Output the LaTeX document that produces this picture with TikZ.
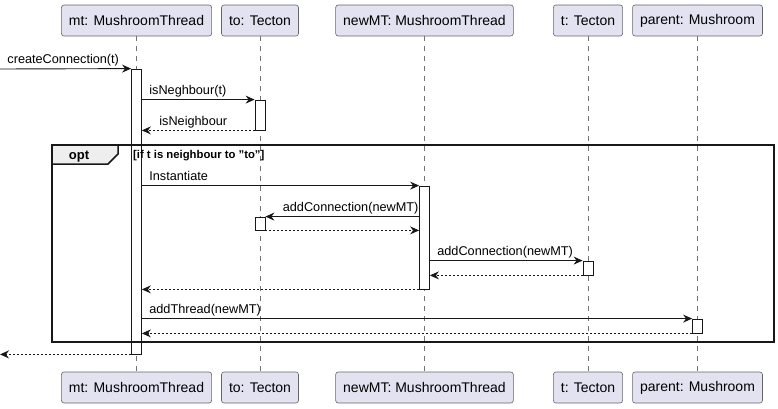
\documentclass[tikz,border=0pt]{standalone}
\usepackage{fontspec}
\setmainfont{Liberation Sans}
\usetikzlibrary{arrows.meta}
\definecolor{partfill}{HTML}{E2E2F0}
\definecolor{tabfill}{HTML}{EEEEEE}
\definecolor{linecol}{HTML}{181818}
\begin{document}
\begin{tikzpicture}[x=1pt,y=-1pt,
    part/.style={draw=black!60, fill=partfill, rounded corners=2.5pt, line width=0.6pt,
      minimum height=31pt, inner xsep=7.5pt, font=\fontsize{14}{16}\selectfont},
    act/.style={draw=linecol, fill=white, line width=0.8pt, minimum width=10pt, inner sep=0pt},
    msg/.style={draw=linecol, line width=0.9pt, -{Stealth[length=9pt,width=8pt,inset=3pt]}},
    ret/.style={msg, dash pattern=on 2pt off 2pt},
    lbl/.style={anchor=base west, inner sep=0pt, yshift=5pt, font=\fontsize{12.7}{15}\selectfont},
    life/.style={draw=black!55, dash pattern=on 5pt off 5pt, line width=0.6pt},
    frame/.style={draw=linecol, line width=1.5pt}]
    \useasboundingbox (0,0) rectangle (778,409);

    % participants
    \node[part] (mt) at (136.5,20.5) {mt: MushroomThread};
    \node[part] (to) at (260,20.5) {to: Tecton};
    \node[part] (nmt) at (424.5,20.5) {newMT: MushroomThread};
    \node[part] (t) at (588,20.5) {t: Tecton};
    \node[part] (par) at (697.5,20.5) {parent: Mushroom};

    \node[part] (mt-b) at (136.5,387.5) {mt: MushroomThread};
    \node[part] (to-b) at (260,387.5) {to: Tecton};
    \node[part] (nmt-b) at (424.5,387.5) {newMT: MushroomThread};
    \node[part] (t-b) at (588,387.5) {t: Tecton};
    \node[part] (par-b) at (697.5,387.5) {parent: Mushroom};

    % lifelines
    \foreach \p in {mt,to,nmt,t,par}
      \draw[life] (\p.south) -- (\p-b.north);

    % activations
    \node[act, minimum height=285pt] (a-mt) at (136.5,211.5) {};
    \node[act, minimum height=30pt] (a-to1) at (260,115) {};
    \node[act, minimum height=103pt] (a-nmt) at (424.5,237.5) {};
    \node[act, minimum height=13pt] (a-to2) at (260,223.5) {};
    \node[act, minimum height=14pt] (a-t) at (588,268) {};
    \node[act, minimum height=14pt] (a-par) at (697.5,326) {};

    \coordinate (caller) at (0,69);

    % messages
    \draw[msg] (caller) -- (a-mt.north west)
      node[lbl, pos=0, xshift=7pt] {createConnection(t)};
    \draw[msg] (a-mt.east |- a-to1.north) -- (a-to1.north west)
      node[lbl, pos=0, xshift=7pt] {isNeghbour(t)};
    \draw[ret] (a-to1.south west) -- (a-mt.east |- a-to1.south)
      node[lbl, pos=1, xshift=17pt] {isNeighbour};

    \draw[msg] (a-mt.east |- a-nmt.north) -- (a-nmt.north west)
      node[lbl, pos=0, xshift=7pt] {Instantiate};
    \draw[msg] (a-nmt.west |- a-to2.north) -- (a-to2.north east)
      node[lbl, pos=1, xshift=17pt] {addConnection(newMT)};
    \draw[ret] (a-to2.south east) -- (a-nmt.west |- a-to2.south);
    \draw[msg] (a-nmt.east |- a-t.north) -- (a-t.north west)
      node[lbl, pos=0, xshift=7pt] {addConnection(newMT)};
    \draw[ret] (a-t.south west) -- (a-nmt.east |- a-t.south);
    \draw[ret] (a-nmt.south west) -- (a-mt.east |- a-nmt.south);

    \draw[msg] (a-mt.east |- a-par.north) -- (a-par.north west)
      node[lbl, pos=0, xshift=7pt] {addThread(newMT)};
    \draw[ret] (a-par.south west) -- (a-mt.east |- a-par.south);

    \draw[ret] (a-mt.south west) -- (caller |- a-mt.south);

    % opt frame
    \draw[frame, fill=tabfill] (52,145) -- (118,145) -- (118,154) -- (108,164) -- (52,164) -- cycle;
    \draw[frame] (52,145) rectangle (774,342);
    \node[anchor=base, inner sep=0pt, font=\bfseries\fontsize{13}{15}\selectfont] (optlbl) at (79,159) {opt};
    \node[anchor=base west, inner sep=0pt, font=\bfseries\fontsize{11.3}{13}\selectfont] (guard) at (133,158) {[if t is neighbour to "to"]};
\end{tikzpicture}
\end{document}
